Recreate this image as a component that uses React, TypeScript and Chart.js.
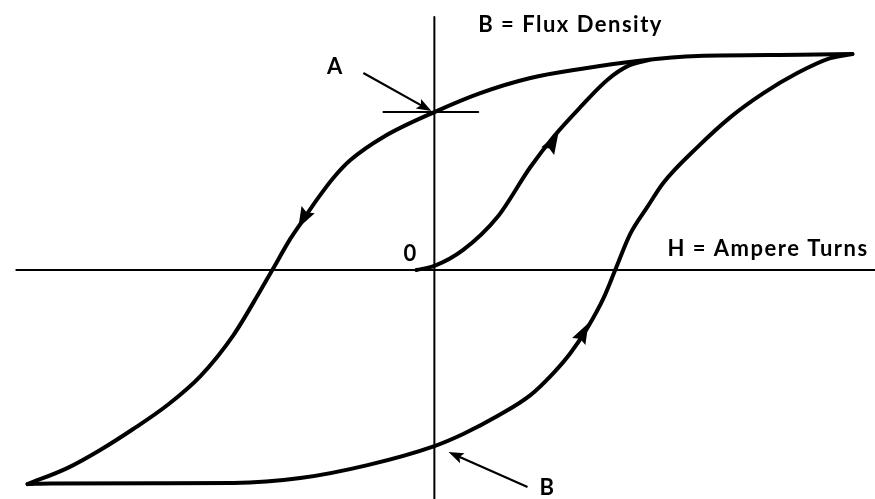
import React, { useEffect, useRef } from "react";
import { Chart, registerables } from "chart.js";

Chart.register(...registerables);

// H (ampere turns) and B (flux density) in arbitrary units
const descendingH = [100.1, 87.6, 63.0, 48.6, 35.0, 23.0, 11.0, 0, -12.2, -20.1, -24.2, -28.0, -32.1, -34.5, -38.8, -41.7, -48.1, -56.0, -63.9, -72.1, -80.0, -87.9, -97.4];
const descendingB = [100, 99.6, 99.1, 96.8, 93.1, 88.9, 81.9, 73.1, 61.6, 50.9, 42.6, 32.9, 21.3, 14.4, 0, -9.7, -30.1, -49.1, -62.5, -73.6, -83.3, -91.7, -99.1];

const ascendingH = [-97.4, -91.9, -63.9, -48.1, -32.1, -16.0, 0, 6.9, 15.1, 23.0, 28.5, 32.6, 36.6, 40.5, 43.3, 46.9, 51.0, 54.8, 63.0, 70.9, 78.8, 86.9, 94.8, 100.1];
const ascendingB = [-99.1, -98.8, -98.7, -98.6, -96.3, -90.3, -81.5, -75.9, -67.6, -57.9, -47.7, -38.4, -26.9, -13.0, 0, 16.7, 29.2, 40.3, 56.9, 70.8, 81.9, 91.2, 98.1, 100];

const initialH = [-4.3, 0, 6.9, 15.1, 23.0, 28.5, 35.0, 41.4, 46.5, 51.5];
const initialB = [0, 1.9, 9.3, 24.5, 47.7, 61.6, 75.5, 88.0, 94.6, 97.3];

// axes extents
const hAxisH = [-100.1, 105.6];
const vAxisB = [117.1, -106];

// residual flux marker (A)
const markAH = [-12.2, 10.5];
const markAB = 73.1;

// pointer arrows [tailH, tailB, tipH, tipB]
const pointerA = [-17.0, 91.2, -0.7, 73.6];
const pointerB = [22.3, -100.5, 3.4, -84.3];

// direction arrows on the curves [fromH, fromB, toH, toB]
const curveArrows = [
  [-30.9, 25.5, -32.6, 19.4],
  [35.0, -31.5, 36.9, -24.5],
  [27.3, 55.6, 29.7, 63.4],
];

// labels [text, H, B, align]
const labels: [string, number, number, CanvasTextAlign][] = [
  ["B = Flux Density", 10.5, 113.4, "left"],
  ["H = Ampere Turns", 55.8, 9.7, "left"],
  ["0", -5.7, 7.4, "center"],
  ["A", -23.7, 94, "center"],
  ["B", 27.1, -100.9, "center"],
];

const zip = (xs: number[], ys: number[]) => xs.map((x, i) => ({ x, y: ys[i] }));

export default function App() {
  const ref = useRef<HTMLCanvasElement>(null);
  useEffect(() => {
    const canvas = ref.current!;
    const lineDs = (data: { x: number; y: number }[], width: number, smooth = false) => ({
      data,
      borderColor: "#000",
      borderWidth: width,
      pointRadius: 0,
      tension: smooth ? 0.4 : 0,
      cubicInterpolationMode: smooth ? ("monotone" as const) : ("default" as const),
      borderCapStyle: "round" as const,
      borderJoinStyle: "round" as const,
      showLine: true,
      fill: false,
    });
    const overlay = {
      id: "overlay",
      afterDatasetsDraw(chart: any) {
        const { ctx, scales } = chart;
        const px = (h: number) => scales.x.getPixelForValue(h);
        const py = (b: number) => scales.y.getPixelForValue(b);
        ctx.save();
        ctx.fillStyle = "#000";
        ctx.strokeStyle = "#000";
        const head = (x0: number, y0: number, x1: number, y1: number, len: number, half: number, notch: number) => {
          const ang = Math.atan2(y1 - y0, x1 - x0);
          const c = Math.cos(ang), s = Math.sin(ang);
          ctx.beginPath();
          ctx.moveTo(x1, y1);
          ctx.lineTo(x1 - len * c + half * s, y1 - len * s - half * c);
          ctx.lineTo(x1 - len * notch * c, y1 - len * notch * s);
          ctx.lineTo(x1 - len * c - half * s, y1 - len * s + half * c);
          ctx.closePath();
          ctx.fill();
        };
        for (const p of [pointerA, pointerB]) {
          const x0 = px(p[0]), y0 = py(p[1]), x1 = px(p[2]), y1 = py(p[3]);
          const ang = Math.atan2(y1 - y0, x1 - x0);
          ctx.lineWidth = 2.2;
          ctx.beginPath();
          ctx.moveTo(x0, y0);
          ctx.lineTo(x1 - 6 * Math.cos(ang), y1 - 6 * Math.sin(ang));
          ctx.stroke();
          head(x0, y0, x1, y1, 15, 5.5, 0.8);
        }
        for (const a of curveArrows) {
          head(px(a[0]), py(a[1]), px(a[2]), py(a[3]), 21, 7.5, 0.85);
        }
        ctx.font = "bold 22px Lato";
        (ctx as any).letterSpacing = "1.5px";
        ctx.textBaseline = "middle";
        for (const [t, h, b, al] of labels) {
          ctx.textAlign = al;
          ctx.fillText(t, px(h), py(b));
        }
        ctx.restore();
      },
    };
    const chart = new Chart(canvas, {
      type: "scatter",
      data: {
        datasets: [
          lineDs([{ x: hAxisH[0], y: 0 }, { x: hAxisH[1], y: 0 }], 2),
          lineDs([{ x: 0, y: vAxisB[0] }, { x: 0, y: vAxisB[1] }], 2),
          lineDs([{ x: markAH[0], y: markAB }, { x: markAH[1], y: markAB }], 2),
          lineDs(zip(descendingH, descendingB), 4, true),
          lineDs(zip(ascendingH, ascendingB), 4, true),
          lineDs(zip(initialH, initialB), 4, true),
        ] as any,
      },
      options: {
        animation: false,
        responsive: false,
        maintainAspectRatio: false,
        layout: { padding: 0 },
        plugins: { legend: { display: false }, tooltip: { enabled: false } },
        scales: {
          x: { type: "linear", min: -104, max: 105.5, display: false },
          y: { type: "linear", min: -106, max: 125, display: false },
        },
      },
      plugins: [overlay],
    });
    return () => chart.destroy();
  }, []);
  return (
    <div style={{ position: "fixed", left: 0, top: 0, width: 875, height: 499, background: "#fff" }}>
      <canvas ref={ref} width={875} height={499} style={{ display: "block" }} />
    </div>
  );
}
